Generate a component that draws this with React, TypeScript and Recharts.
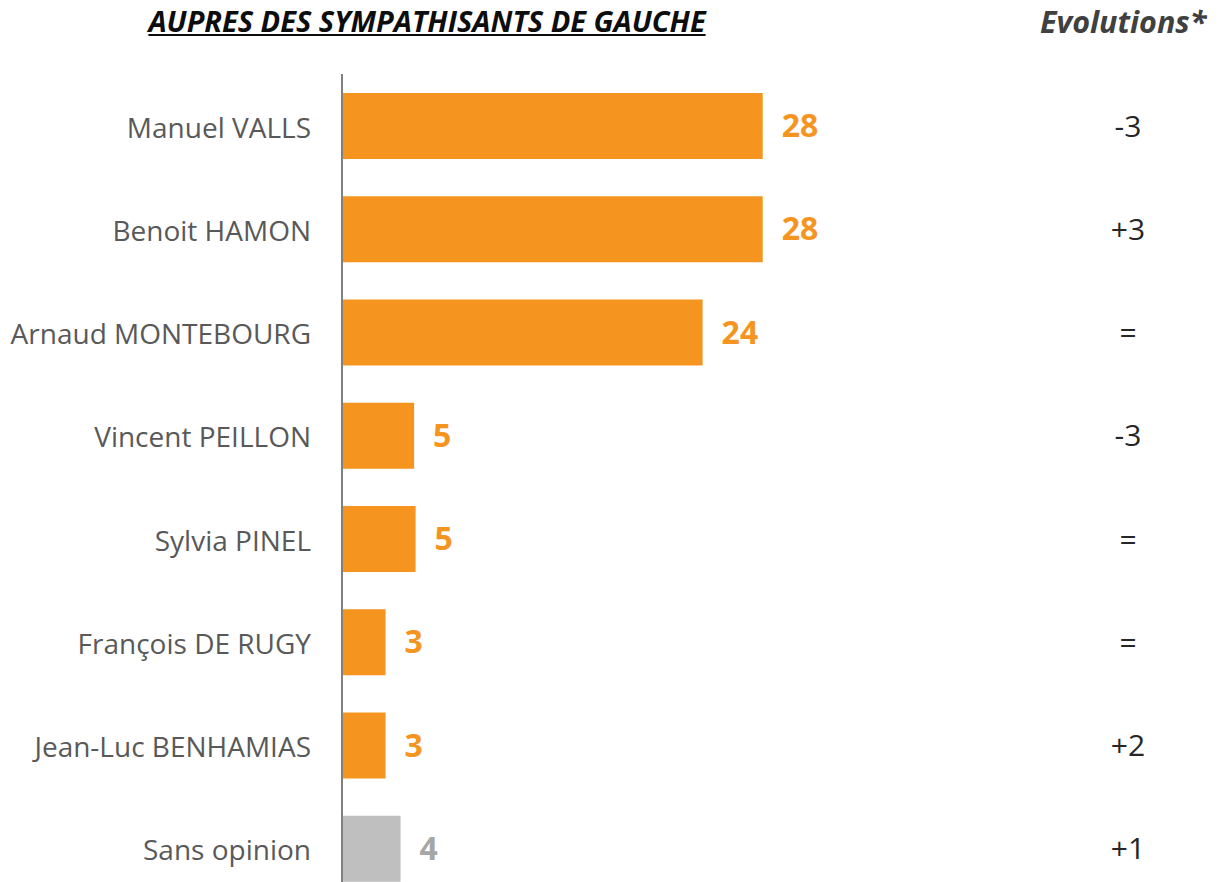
import React from "react";
import { BarChart, Bar, XAxis, YAxis, Cell, LabelList } from "recharts";

const categories = [
  "Manuel VALLS",
  "Benoit HAMON",
  "Arnaud MONTEBOURG",
  "Vincent PEILLON",
  "Sylvia PINEL",
  "François DE RUGY",
  "Jean-Luc BENHAMIAS",
  "Sans opinion",
];
const values = [28, 28, 24, 4.8, 4.9, 2.9, 2.9, 3.9];
const evolutions = ["-3", "+3", "=", "-3", "=", "=", "+2", "+1"];

const data = categories.map((name, i) => ({
  name,
  value: values[i],
  evolution: evolutions[i],
}));

const ORANGE = "#F5951F";
const GREY_BAR = "#BFBFBF";
const GREY_LABEL = "#A6A6A6";
const FONT = "'Open Sans', 'Noto Sans', sans-serif";

const isNeutral = (name: string) => name === "Sans opinion";

const EvolutionTick = (props: any) => {
  const { x, y, payload } = props;
  const evo = data[payload.index]?.evolution ?? "";
  return (
    <text
      x={x + 180}
      y={y}
      dy={11}
      textAnchor="middle"
      fontFamily={FONT}
      fontSize={30}
      fill="#262626"
    >
      {evo}
    </text>
  );
};

const ValueLabel = (props: any) => {
  const { x, y, width, height, value, index } = props;
  const neutral = isNeutral(data[index].name);
  return (
    <text
      x={x + width + 19}
      y={y + height / 2}
      dy={11}
      textAnchor="start"
      fontFamily={FONT}
      fontWeight={700}
      fontSize={32}
      fill={neutral ? GREY_LABEL : ORANGE}
    >
      {Math.round(value)}
    </text>
  );
};

export default function App() {
  return (
    <div
      style={{
        position: "absolute",
        left: 0,
        top: 0,
        width: 1222,
        height: 882,
        overflow: "hidden",
        background: "#fff",
        fontFamily: FONT,
      }}
    >
      <div
        style={{
          position: "absolute",
          left: 0,
          width: 854,
          top: 1,
          textAlign: "center",
          fontSize: 29,
          fontWeight: 700,
          fontStyle: "italic",
          textDecoration: "underline",
          color: "#0d0d0d",
          letterSpacing: 0,
        }}
      >
        AUPRES DES SYMPATHISANTS DE GAUCHE
      </div>
      <div
        style={{
          position: "absolute",
          left: 1040,
          top: 0,
          fontSize: 30.5,
          fontWeight: 700,
          fontStyle: "italic",
          color: "#404040",
        }}
      >
        Evolutions*
      </div>
      <BarChart
        width={1222}
        height={900}
        data={data}
        layout="vertical"
        margin={{ top: 74, right: 0, bottom: 0, left: 0 }}
        barSize={66}
      >
        <XAxis type="number" domain={[0, 39.8]} hide />
        <YAxis
          type="category"
          dataKey="name"
          width={342}
          axisLine={{ stroke: "#808080", strokeWidth: 2 }}
          tickLine={false}
          tickMargin={25}
          tick={{ fill: "#595959", fontSize: 28, fontFamily: FONT, dy: 2 }}
        />
        <YAxis
          yAxisId="right"
          orientation="right"
          type="category"
          dataKey="name"
          width={282}
          axisLine={false}
          tickLine={false}
          tick={<EvolutionTick />}
        />
        <Bar dataKey="value" isAnimationActive={false}>
          {data.map((d) => (
            <Cell key={d.name} fill={isNeutral(d.name) ? GREY_BAR : ORANGE} />
          ))}
          <LabelList dataKey="value" content={<ValueLabel />} />
        </Bar>
      </BarChart>
    </div>
  );
}
